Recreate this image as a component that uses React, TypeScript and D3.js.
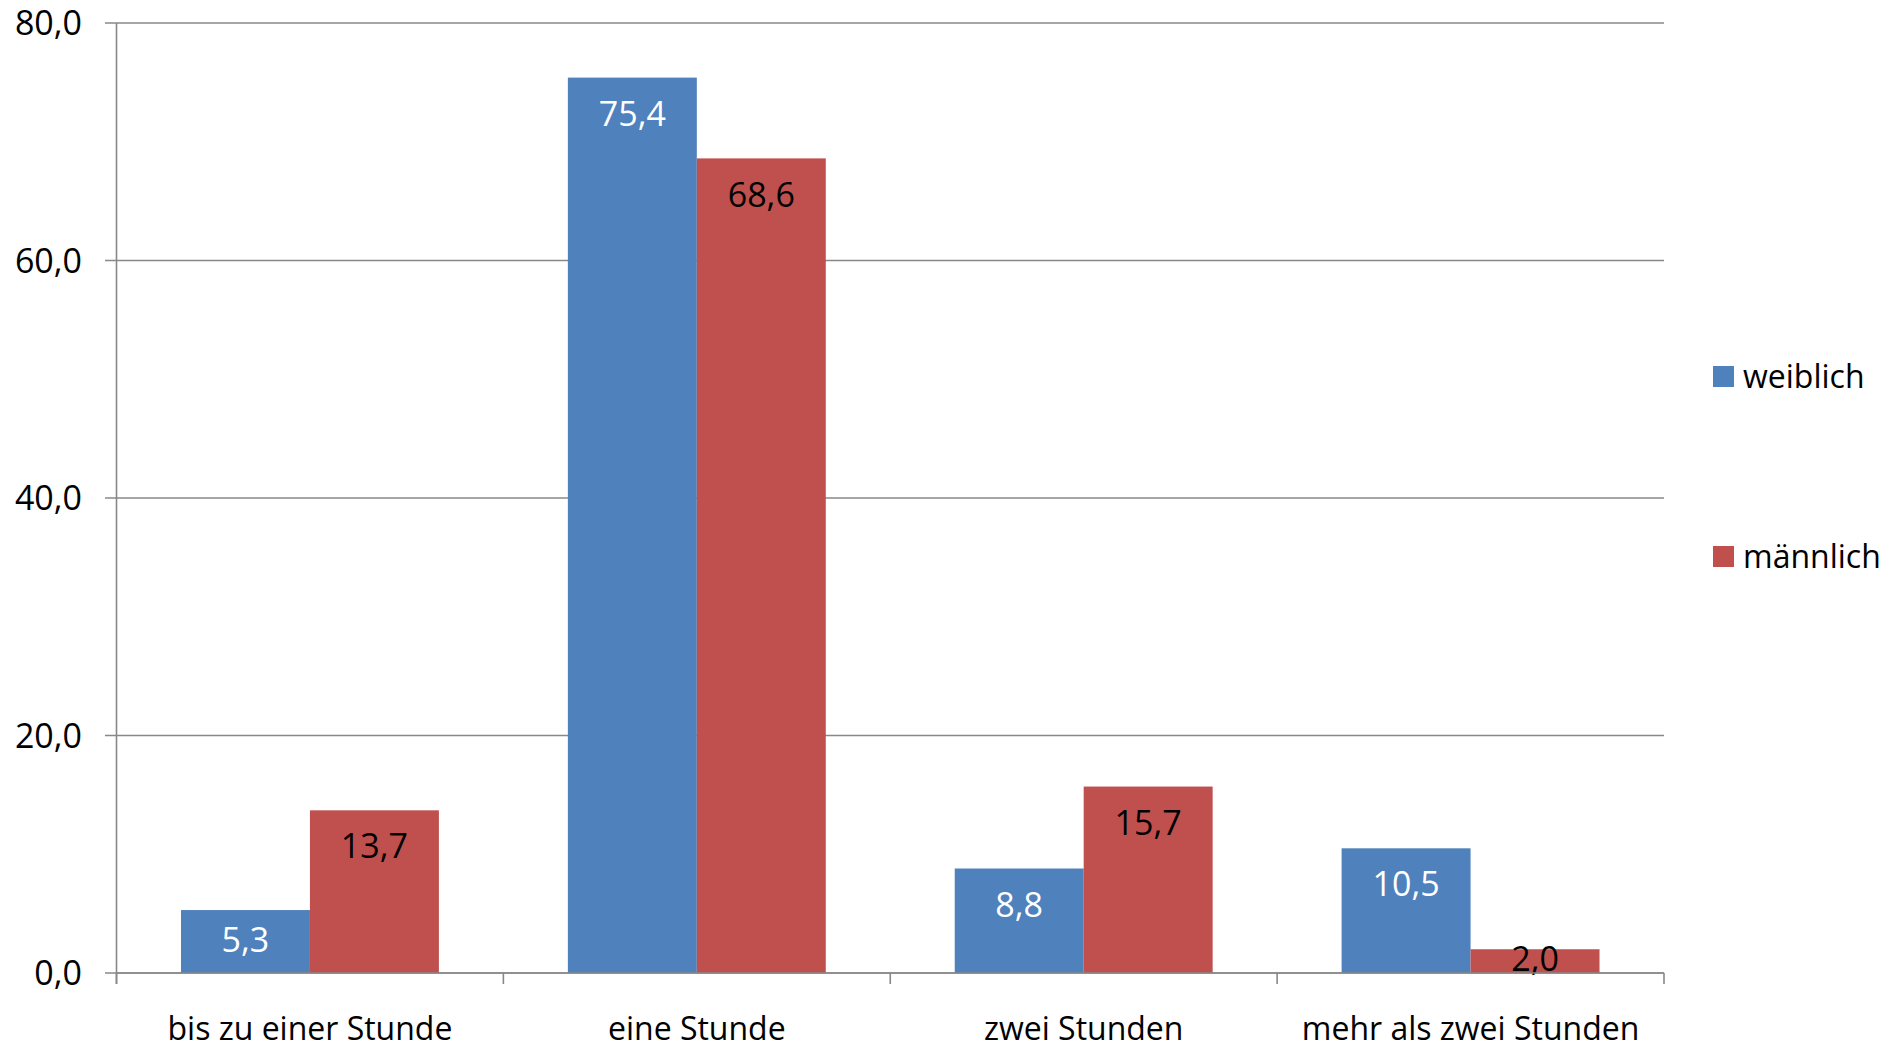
import React from "react";
import * as d3 from "d3";

const categories = ["bis zu einer Stunde", "eine Stunde", "zwei Stunden", "mehr als zwei Stunden"];
const seriesNames = ["weiblich", "männlich"];
const weiblich = [5.3, 75.4, 8.8, 10.5];
const maennlich = [13.7, 68.6, 15.7, 2.0];
const yTicks = [0, 20, 40, 60, 80];
const colors = ["#4f81bd", "#c0504d"];
const labelColors = ["#ffffff", "#000000"];

const W = 1902;
const H = 1049;
const FONT = "'Open Sans', sans-serif";
const FS = 32; // texte
const NFS = 34; // zahlen

const fmt = (v: number) => v.toFixed(1).replace(".", ",");

export default function App() {
	const x = d3.scaleBand<string>().domain(categories).range([116.5, 1664]).padding(0);
	const bw = x.bandwidth();
	const xs = d3
		.scaleBand<string>()
		.domain(seriesNames)
		.range([bw / 6, (bw * 5) / 6])
		.padding(0);
	const y = d3.scaleLinear().domain([0, 80]).range([973, 23]);

	const series = [weiblich, maennlich];
	const gridColor = "#888888";

	return (
		<svg
			width={W}
			height={H}
			style={{ position: "fixed", left: 0, top: 0, background: "#fff" }}
			fontFamily={FONT}
		>
			{/* gitter + y-achse */}
			{yTicks.map((t) => (
				<g key={t}>
					<line x1={105} x2={1664} y1={y(t)} y2={y(t)} stroke={gridColor} strokeWidth={1.6} />
					<text x={82} y={y(t) + NFS * 0.357} textAnchor="end" fontSize={NFS} fill="#000">
						{fmt(t)}
					</text>
				</g>
			))}
			<line x1={116.5} x2={116.5} y1={y(80)} y2={y(0) + 11} stroke={gridColor} strokeWidth={1.6} />

			{/* balken */}
			{series.map((vals, si) =>
				categories.map((c, ci) => {
					const v = vals[ci];
					const bx = (x(c) as number) + (xs(seriesNames[si]) as number);
					const top = y(v);
					const mid = (top + y(0)) / 2;
					const cy = Math.min(top + 36, mid - 2);
					return (
						<g key={`${si}-${ci}`}>
							<rect x={bx} y={top} width={xs.bandwidth()} height={y(0) - top} fill={colors[si]} />
							<text
								x={bx + xs.bandwidth() / 2}
								y={cy + NFS * 0.357}
								textAnchor="middle"
								fontSize={NFS}
								fill={labelColors[si]}
							>
								{fmt(v)}
							</text>
						</g>
					);
				}),
			)}

			{/* x-achse */}
			<line x1={116.5} x2={1664} y1={y(0)} y2={y(0)} stroke={gridColor} strokeWidth={1.6} />
			{[...categories.map((c) => x(c) as number), 1664].map((tx, i) => (
				<line key={i} x1={tx} x2={tx} y1={y(0)} y2={y(0) + 11} stroke={gridColor} strokeWidth={1.6} />
			))}
			{categories.map((c) => (
				<text key={c} x={(x(c) as number) + bw / 2} y={1040} textAnchor="middle" fontSize={FS} fill="#000">
					{c}
				</text>
			))}

			{/* legende */}
			{seriesNames.map((s, i) => (
				<g key={s} transform={`translate(1713, ${366 + i * 180})`}>
					<rect x={0} y={0} width={21} height={21} fill={colors[i]} />
					<text x={30} y={22} fontSize={FS} fill="#000">
						{s}
					</text>
				</g>
			))}
		</svg>
	);
}
